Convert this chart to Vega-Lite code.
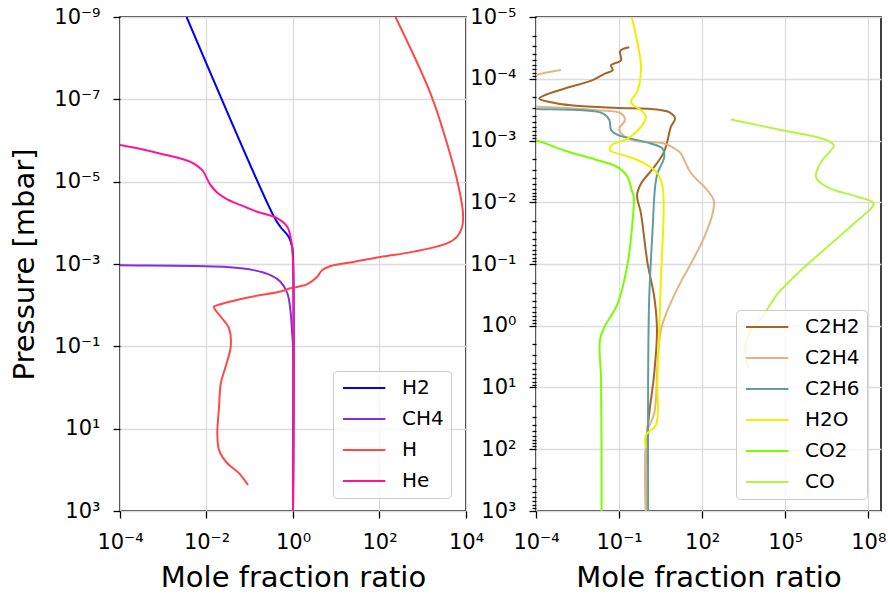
{
  "$schema": "https://vega.github.io/schema/vega-lite/v6.json",
  "background": "white",
  "padding": {"left": 10, "top": 5, "right": 5, "bottom": 5},
  "spacing": 70,
  "bounds": "flush",
  "config": {
    "font": "DejaVu Sans",
    "view": {"stroke": "#000000", "strokeWidth": 1.5},
    "axis": {
      "labelFontSize": 21, "labelColor": "#000000", "labelFont": "DejaVu Sans",
      "titleFontSize": 29, "titleFontWeight": "normal", "titleColor": "#000000", "titleFont": "DejaVu Sans",
      "tickColor": "#000000", "tickSize": 7, "tickWidth": 1.3,
      "domain": false, "gridColor": "#dcdcdc", "gridWidth": 1.3,
      "labelOverlap": false, "labelFlush": false, "labelPadding": 13
    },
    "axisY": {"titlePadding": 14},
    "axisX": {"titlePadding": 11},
    "legend": {
      "title": null,
      "fillColor": "rgba(255,255,255,0.8)", "strokeColor": "#cccccc", "cornerRadius": 4, "padding": 7,
      "labelFontSize": 20, "labelColor": "#000000", "labelFont": "DejaVu Sans",
      "symbolType": "M-1,0H5", "symbolSize": 200, "symbolStrokeWidth": 2, "rowPadding": 11, "labelOffset": 42
    },
    "line": {"strokeWidth": 2}
  },
  "datasets": {
    "left": [
      {"s": "H2", "x": 3.47e-3, "p": 1e-9},
      {"s": "H2", "x": 0.363, "p": 7.08e-5},
      {"s": "H2", "x": 0.513, "p": 1.26e-4},
      {"s": "H2", "x": 0.794, "p": 2.19e-4},
      {"s": "H2", "x": 0.955, "p": 3.80e-4},
      {"s": "H2", "x": 1.0, "p": 6.31e-4},
      {"s": "H2", "x": 1.0, "p": 1000},
      {"s": "CH4", "x": 5e-5, "p": 1.05e-3},
      {"s": "CH4", "x": 1e-4, "p": 1.07e-3},
      {"s": "CH4", "x": 2.51e-2, "p": 1.17e-3},
      {"s": "CH4", "x": 0.123, "p": 1.41e-3},
      {"s": "CH4", "x": 0.302, "p": 1.86e-3},
      {"s": "CH4", "x": 0.513, "p": 2.69e-3},
      {"s": "CH4", "x": 0.741, "p": 5.13e-3},
      {"s": "CH4", "x": 0.871, "p": 1.32e-2},
      {"s": "CH4", "x": 0.955, "p": 4.79e-2},
      {"s": "CH4", "x": 1.0, "p": 0.1},
      {"s": "CH4", "x": 1.0, "p": 1000},
      {"s": "H", "x": 234, "p": 1e-9},
      {"s": "H", "x": 1514, "p": 7.24e-8},
      {"s": "H", "x": 3631, "p": 1.17e-6},
      {"s": "H", "x": 6761, "p": 1.35e-5},
      {"s": "H", "x": 8511, "p": 5.89e-5},
      {"s": "H", "x": 8128, "p": 1.26e-4},
      {"s": "H", "x": 6166, "p": 2.19e-4},
      {"s": "H", "x": 3631, "p": 3.16e-4},
      {"s": "H", "x": 617, "p": 5.01e-4},
      {"s": "H", "x": 105, "p": 6.76e-4},
      {"s": "H", "x": 25.1, "p": 8.91e-4},
      {"s": "H", "x": 7.41, "p": 1.12e-3},
      {"s": "H", "x": 4.68, "p": 1.41e-3},
      {"s": "H", "x": 3.63, "p": 2.04e-3},
      {"s": "H", "x": 2.14, "p": 3.09e-3},
      {"s": "H", "x": 0.871, "p": 3.89e-3},
      {"s": "H", "x": 0.513, "p": 4.68e-3},
      {"s": "H", "x": 0.105, "p": 6.31e-3},
      {"s": "H", "x": 1.78e-2, "p": 1e-2},
      {"s": "H", "x": 1.48e-2, "p": 1.10e-2},
      {"s": "H", "x": 2.14e-2, "p": 1.91e-2},
      {"s": "H", "x": 3.31e-2, "p": 3.63e-2},
      {"s": "H", "x": 3.63e-2, "p": 0.102},
      {"s": "H", "x": 2.75e-2, "p": 0.316},
      {"s": "H", "x": 2.14e-2, "p": 0.794},
      {"s": "H", "x": 1.95e-2, "p": 2.95},
      {"s": "H", "x": 1.78e-2, "p": 12.9},
      {"s": "H", "x": 1.95e-2, "p": 33.1},
      {"s": "H", "x": 3.02e-2, "p": 69.2},
      {"s": "H", "x": 5.62e-2, "p": 120},
      {"s": "H", "x": 9.12e-2, "p": 234},
      {"s": "He", "x": 5e-5, "p": 1.2e-6},
      {"s": "He", "x": 1e-4, "p": 1.29e-6},
      {"s": "He", "x": 8.71e-4, "p": 2.09e-6},
      {"s": "He", "x": 4.27e-3, "p": 3.31e-6},
      {"s": "He", "x": 7.94e-3, "p": 5.25e-6},
      {"s": "He", "x": 1.23e-2, "p": 1.20e-5},
      {"s": "He", "x": 1.78e-2, "p": 1.86e-5},
      {"s": "He", "x": 3.02e-2, "p": 2.69e-5},
      {"s": "He", "x": 6.17e-2, "p": 3.72e-5},
      {"s": "He", "x": 0.148, "p": 5.37e-5},
      {"s": "He", "x": 0.437, "p": 7.76e-5},
      {"s": "He", "x": 0.741, "p": 1.26e-4},
      {"s": "He", "x": 0.933, "p": 3.16e-4},
      {"s": "He", "x": 1.0, "p": 1e-3},
      {"s": "He", "x": 1.0, "p": 1000}
    ],
    "right": [
      {"s": "C2H2", "x": 0.234, "p": 3.09e-5},
      {"s": "C2H2", "x": 0.110, "p": 3.55e-5},
      {"s": "C2H2", "x": 0.117, "p": 5.01e-5},
      {"s": "C2H2", "x": 5.13e-2, "p": 6.03e-5},
      {"s": "C2H2", "x": 5.89e-2, "p": 7.24e-5},
      {"s": "C2H2", "x": 2.95e-2, "p": 8.32e-5},
      {"s": "C2H2", "x": 1.12e-2, "p": 1.05e-4},
      {"s": "C2H2", "x": 1.05e-3, "p": 1.45e-4},
      {"s": "C2H2", "x": 2.0e-4, "p": 1.86e-4},
      {"s": "C2H2", "x": 1.32e-4, "p": 2.09e-4},
      {"s": "C2H2", "x": 3.47e-4, "p": 2.40e-4},
      {"s": "C2H2", "x": 1.82e-3, "p": 2.69e-4},
      {"s": "C2H2", "x": 6.76e-2, "p": 2.95e-4},
      {"s": "C2H2", "x": 2.45, "p": 3.16e-4},
      {"s": "C2H2", "x": 6.46, "p": 3.47e-4},
      {"s": "C2H2", "x": 10.5, "p": 4.37e-4},
      {"s": "C2H2", "x": 7.41, "p": 6.03e-4},
      {"s": "C2H2", "x": 5.62, "p": 1e-3},
      {"s": "C2H2", "x": 4.27, "p": 1.51e-3},
      {"s": "C2H2", "x": 1.86, "p": 2.69e-3},
      {"s": "C2H2", "x": 0.617, "p": 5.01e-3},
      {"s": "C2H2", "x": 0.447, "p": 7.76e-3},
      {"s": "C2H2", "x": 0.617, "p": 1.51e-2},
      {"s": "C2H2", "x": 1.07, "p": 9.77e-2},
      {"s": "C2H2", "x": 1.86, "p": 0.339},
      {"s": "C2H2", "x": 2.34, "p": 1.17},
      {"s": "C2H2", "x": 1.86, "p": 5.89},
      {"s": "C2H2", "x": 1.23, "p": 26.3},
      {"s": "C2H2", "x": 0.933, "p": 91.2},
      {"s": "C2H2", "x": 0.933, "p": 1000},
      {"s": "C2H4", "x": 7.94e-4, "p": 7.24e-5},
      {"s": "C2H4", "x": 1e-4, "p": 8.71e-5},
      {"s": "C2H4", "x": 1e-5, "p": 1.26e-4},
      {"s": "C2H4", "x": 1e-5, "p": 2.51e-4},
      {"s": "C2H4", "x": 1e-4, "p": 2.82e-4},
      {"s": "C2H4", "x": 1.05e-3, "p": 2.95e-4},
      {"s": "C2H4", "x": 1.70e-2, "p": 3.24e-4},
      {"s": "C2H4", "x": 0.117, "p": 3.63e-4},
      {"s": "C2H4", "x": 0.162, "p": 4.68e-4},
      {"s": "C2H4", "x": 0.102, "p": 6.46e-4},
      {"s": "C2H4", "x": 0.135, "p": 8.13e-4},
      {"s": "C2H4", "x": 0.355, "p": 1e-3},
      {"s": "C2H4", "x": 4.27, "p": 1.12e-3},
      {"s": "C2H4", "x": 13.2, "p": 1.45e-3},
      {"s": "C2H4", "x": 17.0, "p": 1.62e-3},
      {"s": "C2H4", "x": 39.8, "p": 3.39e-3},
      {"s": "C2H4", "x": 120, "p": 5.62e-3},
      {"s": "C2H4", "x": 263, "p": 9.33e-3},
      {"s": "C2H4", "x": 240, "p": 1.51e-2},
      {"s": "C2H4", "x": 120, "p": 3.63e-2},
      {"s": "C2H4", "x": 39.8, "p": 9.77e-2},
      {"s": "C2H4", "x": 17.0, "p": 0.195},
      {"s": "C2H4", "x": 5.62, "p": 0.562},
      {"s": "C2H4", "x": 3.24, "p": 1.17},
      {"s": "C2H4", "x": 2.45, "p": 4.07},
      {"s": "C2H4", "x": 1.86, "p": 26.3},
      {"s": "C2H4", "x": 1.07, "p": 49.0},
      {"s": "C2H4", "x": 0.933, "p": 91.2},
      {"s": "C2H4", "x": 0.933, "p": 1000},
      {"s": "C2H6", "x": 3.16e-5, "p": 3.02e-4},
      {"s": "C2H6", "x": 1e-4, "p": 3.09e-4},
      {"s": "C2H6", "x": 2.57e-2, "p": 3.63e-4},
      {"s": "C2H6", "x": 4.47e-2, "p": 4.68e-4},
      {"s": "C2H6", "x": 5.13e-2, "p": 6.76e-4},
      {"s": "C2H6", "x": 8.91e-2, "p": 8.13e-4},
      {"s": "C2H6", "x": 0.269, "p": 9.33e-4},
      {"s": "C2H6", "x": 1.41, "p": 1.12e-3},
      {"s": "C2H6", "x": 3.72, "p": 1.35e-3},
      {"s": "C2H6", "x": 4.27, "p": 1.86e-3},
      {"s": "C2H6", "x": 2.45, "p": 3.39e-3},
      {"s": "C2H6", "x": 2.0, "p": 5.62e-3},
      {"s": "C2H6", "x": 1.62, "p": 2.82e-2},
      {"s": "C2H6", "x": 1.23, "p": 0.339},
      {"s": "C2H6", "x": 1.12, "p": 7.59},
      {"s": "C2H6", "x": 1.12, "p": 1000},
      {"s": "H2O", "x": 0.269, "p": 8.9e-6},
      {"s": "H2O", "x": 0.468, "p": 2.69e-5},
      {"s": "H2O", "x": 0.617, "p": 6.46e-5},
      {"s": "H2O", "x": 0.468, "p": 1.55e-4},
      {"s": "H2O", "x": 0.269, "p": 2.40e-4},
      {"s": "H2O", "x": 0.617, "p": 3.24e-4},
      {"s": "H2O", "x": 0.933, "p": 4.17e-4},
      {"s": "H2O", "x": 0.617, "p": 6.03e-4},
      {"s": "H2O", "x": 0.204, "p": 9.33e-4},
      {"s": "H2O", "x": 5.13e-2, "p": 1.20e-3},
      {"s": "H2O", "x": 4.79e-2, "p": 1.45e-3},
      {"s": "H2O", "x": 0.155, "p": 1.74e-3},
      {"s": "H2O", "x": 0.813, "p": 2.34e-3},
      {"s": "H2O", "x": 2.45, "p": 3.39e-3},
      {"s": "H2O", "x": 3.72, "p": 5.62e-3},
      {"s": "H2O", "x": 4.07, "p": 1.35e-2},
      {"s": "H2O", "x": 3.24, "p": 0.182},
      {"s": "H2O", "x": 2.45, "p": 7.59},
      {"s": "H2O", "x": 2.14, "p": 40.7},
      {"s": "H2O", "x": 0.933, "p": 58.9},
      {"s": "H2O", "x": 0.933, "p": 95.5},
      {"s": "CO2", "x": 1e-5, "p": 8.9e-4},
      {"s": "CO2", "x": 1e-4, "p": 1e-3},
      {"s": "CO2", "x": 1.05e-3, "p": 1.45e-3},
      {"s": "CO2", "x": 1.70e-2, "p": 2.09e-3},
      {"s": "CO2", "x": 8.91e-2, "p": 2.69e-3},
      {"s": "CO2", "x": 0.204, "p": 3.89e-3},
      {"s": "CO2", "x": 0.282, "p": 6.31e-3},
      {"s": "CO2", "x": 0.339, "p": 8.13e-3},
      {"s": "CO2", "x": 0.309, "p": 1.95e-2},
      {"s": "CO2", "x": 0.204, "p": 9.77e-2},
      {"s": "CO2", "x": 8.91e-2, "p": 0.437},
      {"s": "CO2", "x": 2.95e-2, "p": 1.05},
      {"s": "CO2", "x": 2.04e-2, "p": 1.70},
      {"s": "CO2", "x": 2.24e-2, "p": 7.59},
      {"s": "CO2", "x": 2.34e-2, "p": 1000},
      {"s": "CO", "x": 1096, "p": 4.57e-4},
      {"s": "CO", "x": 6.92e4, "p": 6.76e-4},
      {"s": "CO", "x": 2.57e6, "p": 9.55e-4},
      {"s": "CO", "x": 5.62e6, "p": 1.20e-3},
      {"s": "CO", "x": 1.95e6, "p": 2.24e-3},
      {"s": "CO", "x": 1.29e6, "p": 3.89e-3},
      {"s": "CO", "x": 3.39e6, "p": 5.75e-3},
      {"s": "CO", "x": 4.07e7, "p": 8.13e-3},
      {"s": "CO", "x": 1.55e8, "p": 1.05e-2},
      {"s": "CO", "x": 3.09e7, "p": 2.19e-2},
      {"s": "CO", "x": 3.39e6, "p": 5.25e-2},
      {"s": "CO", "x": 3.72e5, "p": 0.126},
      {"s": "CO", "x": 5.37e4, "p": 0.302},
      {"s": "CO", "x": 1.51e4, "p": 0.708},
      {"s": "CO", "x": 5754, "p": 1.17},
      {"s": "CO", "x": 3631, "p": 2.19},
      {"s": "CO", "x": 3802, "p": 3.63},
      {"s": "CO", "x": 5012, "p": 4.90}
    ]
  },
  "hconcat": [
    {
      "width": 346,
      "height": 494,
      "data": {"name": "left"},
      "mark": {"type": "line", "clip": true, "strokeWidth": 2, "interpolate": "catmull-rom"},
      "encoding": {
        "x": {
          "field": "x", "type": "quantitative",
          "scale": {"type": "log", "domain": [1e-4, 1e4], "nice": false},
          "axis": {
            "title": "Mole fraction ratio",
            "values": [1e-4, 1e-2, 1, 100, 10000],
            "labelExpr": "'10' + replace(replace(replace(replace(replace(replace(replace(replace(replace(replace(replace('' + round(log(datum.value)/LN10), '-', '⁻'), '0', '⁰'), '1', '¹'), '2', '²'), '3', '³'), '4', '⁴'), '5', '⁵'), '6', '⁶'), '7', '⁷'), '8', '⁸'), '9', '⁹')"
          }
        },
        "y": {
          "field": "p", "type": "quantitative",
          "scale": {"type": "log", "domain": [1e-9, 1e3], "nice": false, "reverse": true},
          "axis": {
            "title": "Pressure [mbar]",
            "values": [1e-9, 1e-7, 1e-5, 1e-3, 1e-1, 10, 1000],
            "labelExpr": "'10' + replace(replace(replace(replace(replace(replace(replace(replace(replace(replace(replace('' + round(log(datum.value)/LN10), '-', '⁻'), '0', '⁰'), '1', '¹'), '2', '²'), '3', '³'), '4', '⁴'), '5', '⁵'), '6', '⁶'), '7', '⁷'), '8', '⁸'), '9', '⁹')"
          }
        },
        "color": {
          "field": "s", "type": "nominal",
          "scale": {"domain": ["H2", "CH4", "H", "He"], "range": ["#0000ff", "#8a2be2", "#ff4848", "#ff1493"]},
          "legend": {"orient": "none", "legendX": 213, "legendY": 354}
        },
        "order": {"value": null}
      }
    },
    {
      "width": 345,
      "height": 494,
      "data": {"name": "right"},
      "mark": {"type": "line", "clip": true, "strokeWidth": 2, "interpolate": "catmull-rom"},
      "encoding": {
        "x": {
          "field": "x", "type": "quantitative",
          "scale": {"type": "log", "domain": [1e-4, 2.88e8], "nice": false},
          "axis": {
            "title": "Mole fraction ratio",
            "values": [1e-4, 1e-1, 100, 1e5, 1e8],
            "labelExpr": "'10' + replace(replace(replace(replace(replace(replace(replace(replace(replace(replace(replace('' + round(log(datum.value)/LN10), '-', '⁻'), '0', '⁰'), '1', '¹'), '2', '²'), '3', '³'), '4', '⁴'), '5', '⁵'), '6', '⁶'), '7', '⁷'), '8', '⁸'), '9', '⁹')"
          }
        },
        "y": {
          "field": "p", "type": "quantitative",
          "scale": {"type": "log", "domain": [1e-5, 1e3], "nice": false, "reverse": true},
          "axis": {
            "title": null,
            "values": [1e-5, 2e-5, 3e-5, 4e-5, 5e-5, 6e-5, 7e-5, 8e-5, 9e-5,
                       1e-4, 2e-4, 3e-4, 4e-4, 5e-4, 6e-4, 7e-4, 8e-4, 9e-4,
                       1e-3, 2e-3, 3e-3, 4e-3, 5e-3, 6e-3, 7e-3, 8e-3, 9e-3,
                       1e-2, 2e-2, 3e-2, 4e-2, 5e-2, 6e-2, 7e-2, 8e-2, 9e-2,
                       0.1, 0.2, 0.3, 0.4, 0.5, 0.6, 0.7, 0.8, 0.9,
                       1, 2, 3, 4, 5, 6, 7, 8, 9,
                       10, 20, 30, 40, 50, 60, 70, 80, 90,
                       100, 200, 300, 400, 500, 600, 700, 800, 900, 1000],
            "tickSize": {"condition": {"test": "abs(log(datum.value)/LN10 - round(log(datum.value)/LN10)) < 0.001", "value": 7}, "value": 4},
            "gridOpacity": {"condition": {"test": "abs(log(datum.value)/LN10 - round(log(datum.value)/LN10)) < 0.001", "value": 1}, "value": 0},
            "labelExpr": "abs(log(datum.value)/LN10 - round(log(datum.value)/LN10)) < 0.001 ? '10' + replace(replace(replace(replace(replace(replace(replace(replace(replace(replace(replace('' + round(log(datum.value)/LN10), '-', '⁻'), '0', '⁰'), '1', '¹'), '2', '²'), '3', '³'), '4', '⁴'), '5', '⁵'), '6', '⁶'), '7', '⁷'), '8', '⁸'), '9', '⁹') : ''"
          }
        },
        "color": {
          "field": "s", "type": "nominal",
          "scale": {"domain": ["C2H2", "C2H4", "C2H6", "H2O", "CO2", "CO"], "range": ["#a2662c", "#e2b482", "#5f9ea0", "#f2ee00", "#7cfc00", "#b4f542"]},
          "legend": {"orient": "none", "legendX": 200, "legendY": 293}
        },
        "order": {"value": null}
      }
    }
  ],
  "resolve": {"scale": {"color": "independent"}}
}
